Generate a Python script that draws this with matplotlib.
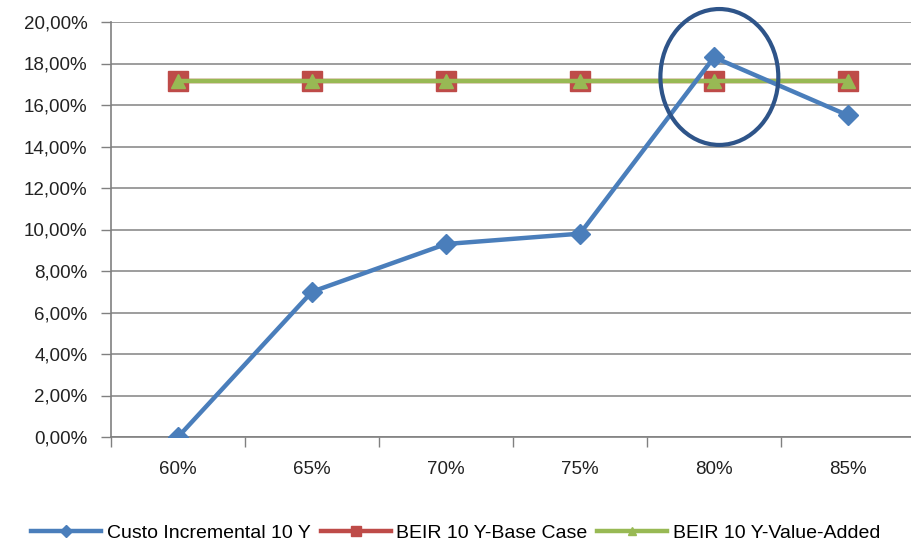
import matplotlib
matplotlib.use("Agg")
import matplotlib.pyplot as plt
from matplotlib.patches import Ellipse
from matplotlib.ticker import FuncFormatter, MultipleLocator

plt.rcParams['font.family'] = ['Liberation Sans', 'DejaVu Sans']

categories = ["60%", "65%", "70%", "75%", "80%", "85%"]
custo_incremental = [0.0, 7.0, 9.3, 9.8, 18.3, 15.5]
beir_base_case = [17.15, 17.15, 17.15, 17.15, 17.15, 17.15]
beir_value_added = [17.15, 17.15, 17.15, 17.15, 17.15, 17.15]

W, H = 912, 544
fig = plt.figure(figsize=(W / 100, H / 100), dpi=100)
ax = fig.add_axes([111 / W, 1 - 437 / H, 804 / W, 415 / H])

x = list(range(len(categories)))
ax.plot(x, custo_incremental, color="#4A7EBB", lw=3.2, marker="D", ms=10.5,
        mfc="#4A7EBB", mec="#4A7EBB", label="Custo Incremental 10 Y", zorder=3)
ax.plot(x, beir_base_case, color="#BE4B48", lw=3.2, marker="s", ms=14,
        mfc="#BE4B48", mec="#BE4B48", label="BEIR 10 Y-Base Case", zorder=2)
ax.plot(x, beir_value_added, color="#98B954", lw=3.2, marker="^", ms=10,
        mfc="#98B954", mec="#98B954", label="BEIR 10 Y-Value-Added", zorder=2.5)

ax.set_xlim(-0.5, len(categories) - 0.5)
ax.set_ylim(0, 20)
ax.yaxis.set_major_locator(MultipleLocator(2))
ax.yaxis.set_major_formatter(FuncFormatter(lambda v, p: f"{v:.2f}".replace(".", ",") + "%"))
ax.set_xticks(x)
ax.set_xticklabels(categories)
ax.set_xticks([i - 0.5 for i in range(len(categories) + 1)], minor=True)
ax.tick_params(axis="x", which="major", length=0, pad=17, labelsize=13.5, colors="#222222")
ax.tick_params(axis="x", which="minor", length=7, width=1, color="#808080")
ax.tick_params(axis="y", length=7, width=1, color="#808080", pad=10, labelsize=13.5,
               labelcolor="#222222")

ax.grid(axis="y", color="#8C8C8C", lw=1.2)
ax.set_axisbelow(True)
for s in ["top", "right"]:
    ax.spines[s].set_visible(False)
for s in ["left", "bottom"]:
    ax.spines[s].set_color("#808080")
    ax.spines[s].set_linewidth(1.2)

# highlight around the 80% point
ax.add_patch(Ellipse((4.04, 17.35), width=0.88, height=6.55, fill=False,
                     edgecolor="#2E5489", lw=3, zorder=4, clip_on=False))

leg = fig.legend(loc="center", bbox_to_anchor=(0.5, 1 - 533 / H), ncol=3, frameon=False,
                 fontsize=14, handlelength=3.6, columnspacing=0.5, handletextpad=0.3,
                 markerscale=0.55)

fig.savefig("out.png", dpi=100)
